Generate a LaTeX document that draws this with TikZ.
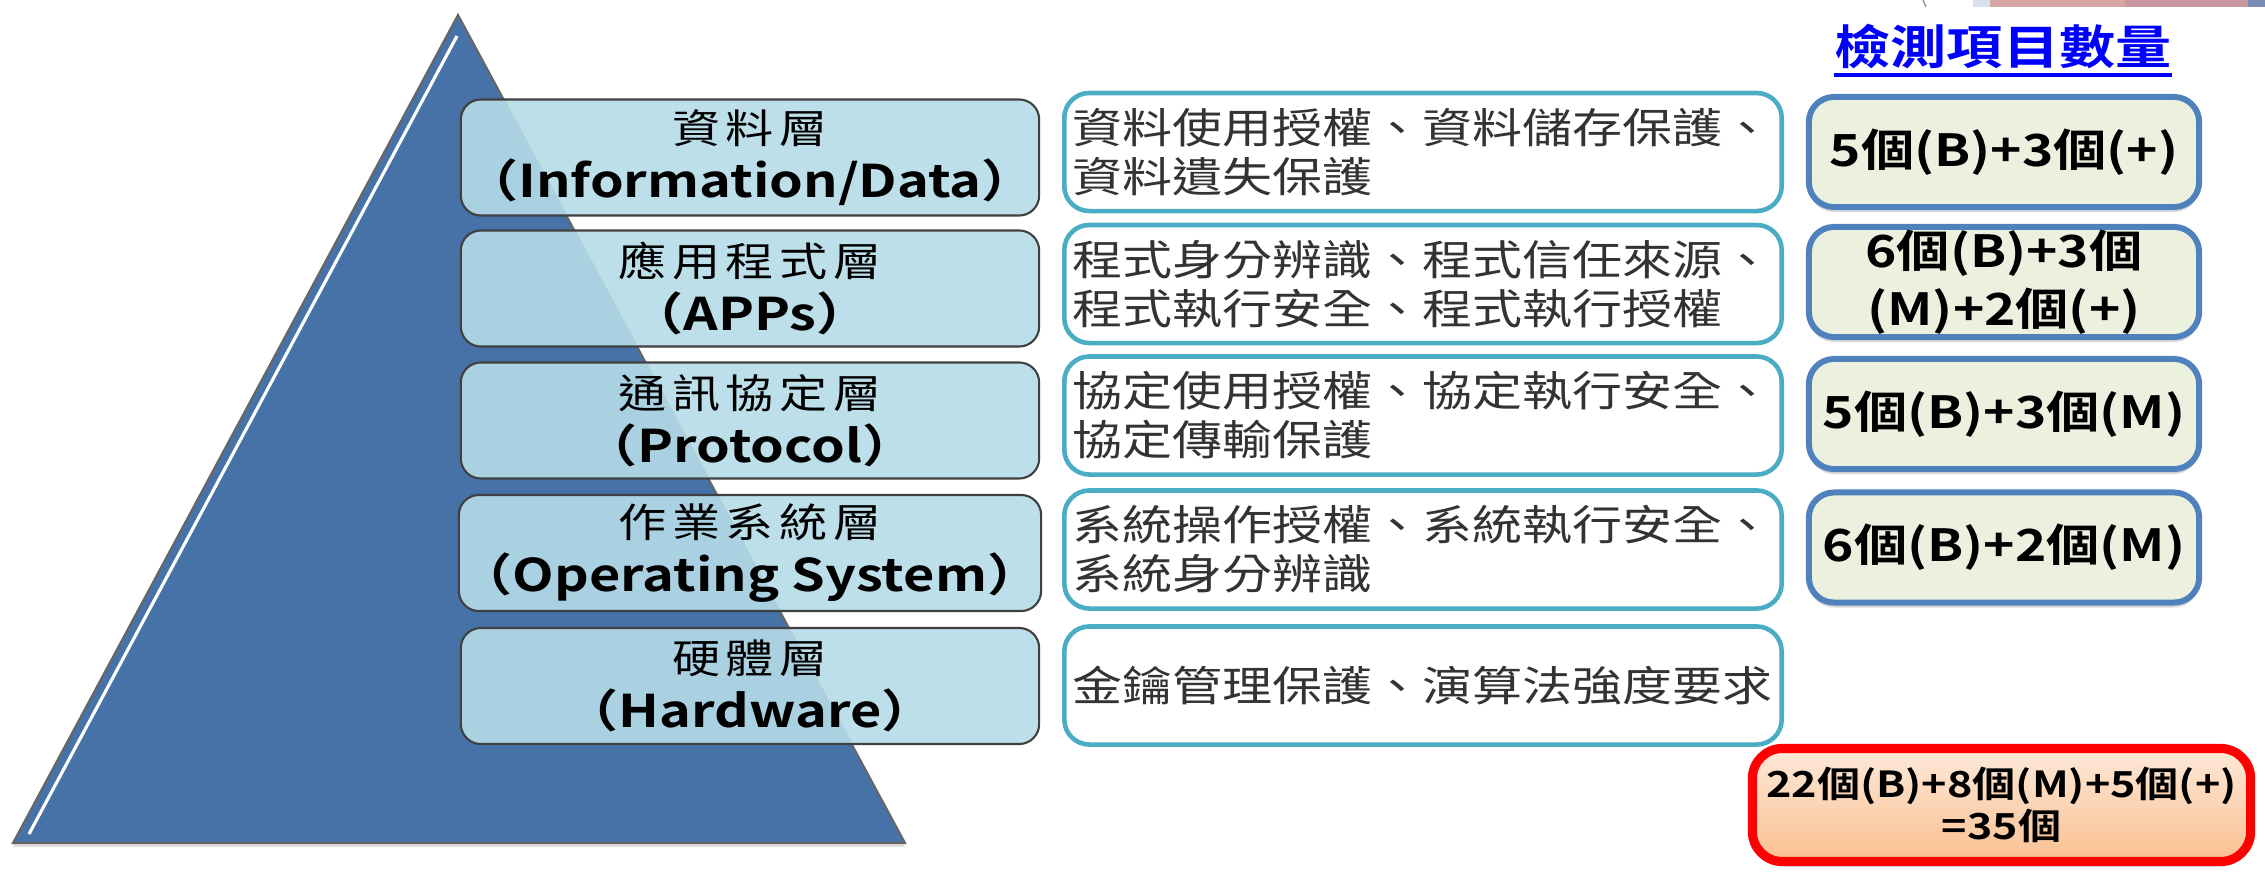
\documentclass[tikz,border=0pt]{standalone}
\usepackage{fontspec}
\setmainfont[FakeStretch=1.2,BoldFont={Noto Sans CJK TC Bold}]{Noto Sans CJK TC}
\newfontfamily\layercjk[FakeStretch=1.2,LetterSpace=14]{Noto Sans CJK TC}
\usetikzlibrary{shadows}
\definecolor{pyrblue}{RGB}{70,114,168}
\definecolor{layerfill}{RGB}{181,220,232}
\definecolor{descline}{RGB}{75,172,198}
\definecolor{cntfill}{RGB}{235,241,222}
\definecolor{cntline}{RGB}{79,129,189}
\definecolor{sumtop}{RGB}{253,233,217}
\definecolor{sumbot}{RGB}{250,192,144}
\definecolor{fragblue}{RGB}{214,226,240}
\definecolor{fragpink}{RGB}{217,166,166}
\definecolor{fragrose}{RGB}{203,151,160}
\definecolor{fragslate}{RGB}{122,140,180}
\newcommand{\lyr}[2]{{\layercjk\fontsize{11.4}{15.4}\selectfont #1}\\{\bfseries #2}}
\begin{document}
\begin{tikzpicture}[x=0.01cm, y=-0.01cm,
		pyramid/.style={fill=pyrblue, draw=black!60, line width=0.6pt, drop shadow={opacity=0.25, shadow xshift=0pt, shadow yshift=-0.04cm}},
		layer/.style={draw=black!75, line width=0.6pt, fill=layerfill, fill opacity=0.9, text opacity=1, rounded corners=0.2cm, minimum width=5.78cm, minimum height=1.16cm, align=center, inner sep=0pt, font=\fontsize{12.8}{15.4}\selectfont},
		desc/.style={draw=descline, line width=1.3pt, fill=white, rounded corners=0.25cm, minimum width=7.17cm, minimum height=1.18cm, text width=7.01cm, align=left, inner xsep=0.08cm, inner ysep=0pt, text=black!80, font=\fontsize{11.85}{13.9}\selectfont},
		count/.style={draw=cntline, line width=1.7pt, fill=cntfill, rounded corners=0.25cm, minimum width=3.9cm, minimum height=1.1cm, align=center, inner sep=0pt, font=\bfseries\fontsize{12.6}{16.5}\selectfont, drop shadow={opacity=0.3, shadow xshift=0pt, shadow yshift=-0.05cm}},
		total/.style={draw=red, line width=2.6pt, top color=sumtop, bottom color=sumbot, rounded corners=0.3cm, minimum width=4.98cm, minimum height=1.13cm, align=center, inner sep=0pt, font=\bfseries\fontsize{10.2}{12}\selectfont, drop shadow={opacity=0.3, shadow xshift=0pt, shadow yshift=-0.05cm}},
		head/.style={text=blue, inner sep=0pt, font=\bfseries\fontsize{13.3}{16}\selectfont}]
	\useasboundingbox (0,0) rectangle (2265,875);

	\fill[fragblue]		(1973,0) rectangle (1990,7);
	\fill[fragpink]		(1990,0) rectangle (2125,7);
	\fill[fragrose]		(2125,0) rectangle (2248,7);
	\fill[fragslate]	(2248,0) rectangle (2265,7);
	\draw[black!40]		(1923,0) -- (1926,7);

	\filldraw[pyramid]	(458,15) -- (13,843) -- (905,843) -- cycle;
	\draw[white, line width=0.9pt]	(457,36) -- (29,834);

	\node[layer] (data) at (750,157.5) {\lyr{資料層}{（Information/Data）}};
	\node[layer] (apps) at (750,288.5) {\lyr{應用程式層}{（APPs）}};
	\node[layer] (prot) at (750,420.5) {\lyr{通訊協定層}{（Protocol）}};
	\node[layer] (os) at (750,553) {\lyr{作業系統層}{（Operating System）}};
	\node[layer] (hw) at (750,686) {\lyr{硬體層}{（Hardware）}};

	\node[desc] (datadesc) at (1423,152) {資料使用授權、資料儲存保護、\\資料遺失保護};
	\node[desc] (appsdesc) at (1423,284) {程式身分辨識、程式信任來源、\\程式執行安全、程式執行授權};
	\node[desc] (protdesc) at (1423,415.5) {協定使用授權、協定執行安全、\\協定傳輸保護};
	\node[desc] (osdesc) at (1423,549.5) {系統操作授權、系統執行安全、\\系統身分辨識};
	\node[desc] (hwdesc) at (1423,685.5) {金鑰管理保護、演算法強度要求};

	\node[head, anchor=base] (head) at (2003,64) {檢測項目數量};
	\draw[blue, line width=1.1pt]	([yshift=-0.11cm]head.base west) -- ([yshift=-0.11cm]head.base east);

	\node[count] (datacnt) at (2004,152) {5個(B)+3個(+)};
	\node[count] (appscnt) at (2004,282) {6個(B)+3個\\(M)+2個(+)};
	\node[count] (protcnt) at (2004,414) {5個(B)+3個(M)};
	\node[count] (oscnt) at (2004,547.5) {6個(B)+2個(M)};

	\node[total] (sum) at (2001.5,805) {22個(B)+8個(M)+5個(+)\\=35個};
\end{tikzpicture}
\end{document}
